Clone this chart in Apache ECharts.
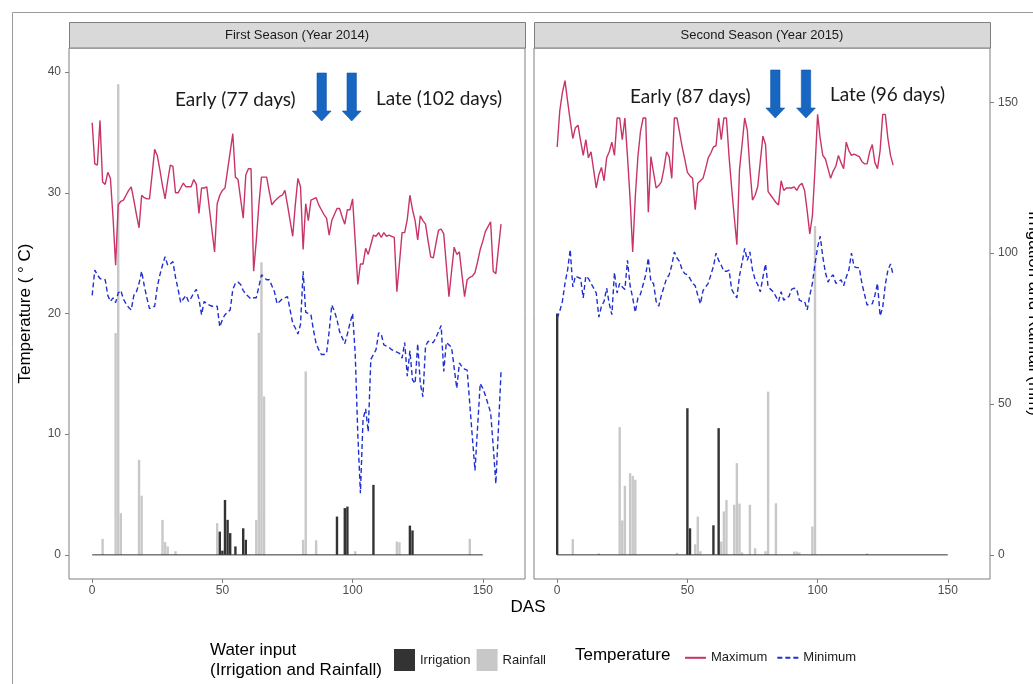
<!DOCTYPE html>
<html>
<head>
<meta charset="utf-8">
<title>Water input and temperature by season</title>
<script src="https://cdn.jsdelivr.net/npm/echarts@6/dist/echarts.min.js"></script>
<style>
  html, body { margin: 0; padding: 0; background: #fff; }
  #chart { width: 1033px; height: 684px; }
</style>
</head>
<body>
<div id="chart"></div>
<script>
// daily temperatures, index = DAS
const maxT2014 = [
  35.8, 32.4, 32.3, 36.0, 30.9, 30.7, 31.7, 31.2, 28.0, 24.0,
  29.0, 29.3, 29.4, 29.8, 30.2, 30.5, 29.4, 28.2, 27.1, 29.8,
  29.6, 29.5, 29.5, 31.5, 33.6, 33.1, 31.9, 30.6, 29.5, 31.0,
  32.3, 32.2, 30.0, 30.0, 30.4, 30.8, 30.5, 30.5, 30.5, 31.1,
  30.7, 28.3, 30.4, 30.4, 30.5, 28.7, 26.9, 25.1, 29.1, 29.8,
  30.2, 30.4, 31.9, 33.4, 34.9, 31.3, 31.1, 29.5, 27.9, 31.5,
  32.0, 32.0, 23.5, 26.0, 29.0, 31.3, 31.3, 31.3, 30.1, 29.0,
  29.3, 29.5, 29.7, 29.8, 30.2, 29.0, 27.7, 26.4, 29.0, 31.2,
  30.5, 25.3, 29.1, 27.7, 29.4, 29.5, 29.6, 29.0, 28.6, 28.2,
  27.9, 26.5, 27.7, 28.2, 28.7, 28.7, 28.0, 27.4, 28.6, 28.6,
  29.5, 26.0, 22.4, 24.1, 24.1, 25.4, 24.9, 25.7, 26.5, 26.4,
  26.7, 26.3, 26.7, 26.4, 26.5, 26.4, 26.3, 21.8, 24.2, 26.7,
  26.7, 27.8, 29.8, 28.6, 27.7, 26.1, 28.1, 27.7, 27.4, 26.0,
  24.7, 24.6, 25.8, 26.9, 27.0, 26.6, 24.0, 21.4, 23.5, 25.5,
  24.9, 25.1, 23.2, 21.4, 22.8, 23.0, 23.1, 23.4, 24.3, 25.3,
  26.0, 26.8, 27.2, 27.6, 23.5, 23.3, 25.4, 27.4
];
const minT2014 = [
  21.5, 23.6, 23.2, 22.9, 22.8, 22.8, 21.5, 21.0, 21.3, 20.9,
  21.7, 21.9, 21.2, 20.8, 20.5, 20.3, 21.5, 21.8, 22.5, 23.5,
  22.3, 21.3, 20.4, 20.5, 20.6, 22.2, 23.2, 24.0, 24.7, 24.0,
  24.1, 24.3, 23.0, 22.0, 20.9, 21.2, 21.5, 21.0, 21.3, 21.7,
  22.0, 21.2, 19.9, 21.0, 20.8, 20.7, 20.6, 20.6, 20.6, 18.9,
  19.5, 19.9, 20.1, 20.3, 22.0, 22.5, 22.6, 22.4, 21.9, 21.6,
  21.4, 21.2, 21.3, 21.3, 22.2, 23.2, 23.0, 22.8, 22.8, 22.3,
  21.8, 20.8, 21.0, 21.2, 21.3, 21.4, 20.3, 19.2, 18.8, 18.3,
  19.1, 23.5, 20.1, 20.0, 19.9, 18.6, 17.5, 17.0, 16.6, 16.6,
  16.7, 18.5, 20.7, 20.2, 19.5, 18.5, 18.0, 17.5, 18.3, 19.2,
  20.0, 16.7, 10.0, 5.1, 11.2, 12.1, 10.2, 16.2, 16.6, 17.0,
  18.4, 18.3, 17.4, 17.3, 17.2, 17.0, 16.9, 16.8, 16.7, 16.3,
  17.6, 14.8, 16.9, 14.5, 14.2, 17.5, 14.2, 13.1, 17.3, 17.7,
  17.6, 17.6, 18.0, 18.5, 19.0, 15.2, 17.6, 17.4, 17.2, 15.5,
  13.8, 15.9, 15.6, 15.4, 15.3, 12.5, 9.7, 7.0, 10.6, 14.2,
  13.8, 13.2, 12.5, 11.8, 9.0, 5.9, 10.5, 15.2
];
const maxT2015 = [
  33.8, 36.8, 38.3, 39.3, 37.6, 36.0, 34.5, 35.4, 35.6, 34.3,
  33.1, 34.4, 32.9, 33.4, 31.9, 30.4, 31.5, 32.1, 31.0, 32.9,
  33.4, 34.2, 33.1, 36.2, 36.2, 34.4, 36.2, 33.0, 29.5, 25.1,
  29.7, 33.0, 35.1, 36.2, 36.2, 28.4, 33.0, 31.7, 30.4, 30.6,
  30.9, 32.0, 33.4, 33.0, 31.2, 36.2, 36.2, 35.0, 33.8, 32.8,
  31.7, 31.4, 31.2, 28.6, 30.8, 31.0, 31.2, 32.0, 32.9, 33.3,
  33.8, 33.9, 36.2, 34.4, 36.2, 36.2, 33.0, 30.4, 28.0, 25.7,
  31.9, 34.0, 36.2, 35.2, 32.0, 29.4, 29.8, 30.5, 32.6, 34.7,
  34.0, 30.1, 29.8, 29.5, 29.2, 29.0, 31.0, 30.2, 30.4, 30.4,
  30.4, 30.5, 30.2, 30.6, 30.8, 30.2, 28.5, 26.6, 28.1, 32.0,
  36.5, 34.5, 33.1, 32.8, 32.0, 31.2, 31.8, 32.2, 33.1, 32.5,
  32.0, 34.2, 33.5, 33.1, 33.2, 33.1, 33.0, 32.6, 32.4, 32.4,
  33.4, 34.0, 32.5, 32.0, 33.5, 36.5, 36.5, 34.5, 33.1, 32.3
];
const minT2015 = [
  19.6, 20.2, 21.0, 22.5, 23.6, 25.3, 22.2, 23.1, 23.0, 22.9,
  21.3, 23.1, 22.9, 22.5, 22.1, 21.7, 19.7, 20.6, 21.0, 22.1,
  20.8, 19.9, 23.4, 21.7, 22.5, 22.2, 22.0, 24.4, 22.3, 21.3,
  20.1, 21.3, 21.6, 22.4, 23.2, 24.6, 22.6, 22.5, 21.0, 20.6,
  21.5, 22.2, 22.9, 23.2, 24.0, 25.1, 24.6, 24.3, 23.6, 23.3,
  23.2, 22.9, 22.5, 22.3, 21.5, 20.8, 21.9, 22.2, 22.5, 23.2,
  23.9, 25.0, 24.4, 24.0, 23.5, 23.5, 23.6, 22.0, 21.6, 21.3,
  23.1, 24.2, 25.4, 24.4, 25.1, 23.6, 22.8, 22.4, 21.8, 23.0,
  24.1, 22.2, 22.0, 21.8, 21.4, 21.0, 21.8, 21.1, 21.3, 21.4,
  22.0, 22.1, 22.0, 21.1, 21.0, 21.0, 20.3, 21.5, 22.5, 24.1,
  25.5, 26.4, 24.7, 23.4, 22.6, 23.0, 23.2, 22.5, 22.6, 22.8,
  22.3, 23.0, 23.6, 25.0, 23.9, 23.8, 23.8, 22.5, 21.6, 20.7,
  20.8, 20.8, 21.5, 22.5, 19.8, 20.5, 22.4, 23.6, 24.1, 23.2
];

// water input (mm) on the days it was recorded
const rainDays2014 = [4, 9, 10, 11, 18, 19, 27, 28, 29, 32, 48, 63, 64, 65, 66, 81, 82, 86, 101, 117, 118, 145];
const rainMm2014 = [5.3, 73.5, 156, 13.8, 31.5, 19.6, 11.6, 4.2, 2.8, 1.2, 10.5, 11.6, 73.6, 97, 52.5, 5.0, 60.8, 4.8, 1.2, 4.4, 4.2, 5.3];
const irrDays2014 = [49, 50, 51, 52, 53, 55, 58, 59, 94, 97, 98, 108, 122, 123];
const irrMm2014 = [7.7, 1.4, 18.2, 11.6, 7.2, 2.8, 8.8, 5.0, 12.7, 15.5, 16.0, 23.2, 9.7, 8.1];

const rainDays2015 = [6, 16, 24, 25, 26, 28, 29, 30, 46, 53, 54, 55, 63, 64, 65, 68, 69, 70, 71, 74, 76, 80, 81, 84, 91, 92, 93, 98, 99, 119];
const rainMm2015 = [5.2, 0.5, 42.3, 11.4, 22.9, 27.1, 26.2, 24.9, 0.7, 3.5, 12.7, 1.2, 4.4, 14.4, 18.2, 16.6, 30.4, 17.0, 0.8, 16.6, 2.2, 1.2, 54.1, 17.1, 1.1, 1.1, 0.8, 9.4, 109, 0.5];
const irrDays2015 = [0, 50, 51, 60, 62];
const irrMm2015 = [80, 48.6, 8.8, 9.8, 42.0];

const baseDays = [0, 150];
const dayTicks = [0, 50, 100, 150];
const tempTicks = [0, 10, 20, 30, 40];
const waterTicks = [0, 50, 100, 150];

const panelTitles = ['First Season (Year 2014)', 'Second Season (Year 2015)'];
const notes = [
  ['Early (77 days)', 'Late (102 days)'],
  ['Early (87 days)', 'Late (96 days)']
];

const sans = '"Liberation Sans", Arial, sans-serif';
const grey = '#7f7f7f';
const maxColor = '#c8346a';
const minColor = '#2030d0';
const arrowBlue = '#1766c2';

function daily(vals) { return vals.map((v, i) => [i, v]); }
function pairs(days, vals) { return days.map((d, i) => [d, vals[i]]); }

function xAxisFor(g) {
  return {
    type: 'value', gridIndex: g, min: -8.9, max: 166.2,
    axisLine: { show: false, onZero: false },
    axisTick: { show: true, customValues: dayTicks, length: 4, lineStyle: { color: grey } },
    axisLabel: { customValues: dayTicks, color: '#4d4d4d', fontSize: 12, fontFamily: sans, margin: 6 },
    splitLine: { show: false }
  };
}

function arrow(cx, top, headTop, tip) {
  return {
    type: 'polygon',
    shape: { points: [[cx - 4.7, top], [cx + 4.7, top], [cx + 4.7, headTop], [cx + 9.4, headTop],
                      [cx, tip], [cx - 9.4, headTop], [cx - 4.7, headTop]] },
    style: { fill: arrowBlue, stroke: '#0f56a8', lineWidth: 0.6 }
  };
}

function note(text, x, y) {
  return { type: 'text', x: x, y: y,
    style: { text: text, font: '19px Lato, "Open Sans", sans-serif', fill: '#1a1a1a', verticalAlign: 'middle' } };
}

function lineSeries(name, g, yIdx, vals, color, dashed) {
  return {
    type: 'line', name: name, xAxisIndex: g, yAxisIndex: yIdx, data: daily(vals),
    symbol: 'none', z: 4,
    itemStyle: { color: color },
    lineStyle: { color: color, width: 1.4, type: dashed ? [5, 3] : 'solid' }
  };
}

function barSeries(name, g, days, vals, color) {
  return {
    type: 'bar', name: name, xAxisIndex: g, yAxisIndex: g * 2 + 1, data: pairs(days, vals),
    barWidth: 2.4, barGap: '-100%', itemStyle: { color: color }
  };
}

function baseLine(g) {
  return {
    type: 'line', xAxisIndex: g, yAxisIndex: g * 2 + 1, data: baseDays.map(d => [d, 0]),
    symbol: 'none', silent: true, z: 3, lineStyle: { color: '#333', width: 1 }
  };
}

const chart = echarts.init(document.getElementById('chart'));

const gridBase = { top: 48, width: 456, height: 531, show: true, borderColor: grey, borderWidth: 1,
  backgroundColor: 'transparent', containLabel: false, outerBoundsMode: 'none' };

const option = {
  animation: false,
  backgroundColor: '#fff',
  grid: [
    Object.assign({ left: 69 }, gridBase),
    Object.assign({ left: 534 }, gridBase)
  ],
  xAxis: [xAxisFor(0), xAxisFor(1)],
  yAxis: [
    {
      type: 'value', gridIndex: 0, min: -2, max: 42, position: 'left',
      axisLine: { show: false, onZero: false },
      axisTick: { show: true, customValues: tempTicks, length: 4, lineStyle: { color: grey } },
      axisLabel: { customValues: tempTicks, color: '#4d4d4d', fontSize: 12, fontFamily: sans, margin: 8 },
      splitLine: { show: false },
      name: 'Temperature ( ° C)', nameLocation: 'middle', nameGap: 35,
      nameTextStyle: { fontSize: 17, color: '#000', fontFamily: sans }
    },
    { type: 'value', gridIndex: 0, min: -8, max: 168, position: 'right', show: false,
      axisLine: { onZero: false }, splitLine: { show: false } },
    { type: 'value', gridIndex: 1, min: -2, max: 42, position: 'left', show: false,
      axisLine: { onZero: false }, splitLine: { show: false } },
    {
      type: 'value', gridIndex: 1, min: -8, max: 168, position: 'right',
      axisLine: { show: false, onZero: false },
      axisTick: { show: true, customValues: waterTicks, length: 4, lineStyle: { color: grey } },
      axisLabel: { customValues: waterTicks, color: '#4d4d4d', fontSize: 12, fontFamily: sans, margin: 8 },
      splitLine: { show: false },
      name: 'Irrigation and Rainfall (mm)', nameLocation: 'middle', nameGap: 35, nameRotate: -90,
      nameTextStyle: { fontSize: 17, color: '#000', fontFamily: sans }
    }
  ],
  legend: [
    {
      data: ['Irrigation', 'Rainfall'], left: 389, top: 644, orient: 'horizontal',
      itemWidth: 21, itemHeight: 22, itemGap: 6, icon: 'rect', selectedMode: false,
      textStyle: { fontSize: 13, color: '#1a1a1a', fontFamily: sans }
    },
    {
      data: ['Maximum', 'Minimum'], left: 679, top: 644, orient: 'horizontal',
      itemWidth: 21, itemHeight: 22, itemGap: 9, selectedMode: false,
      itemStyle: { opacity: 0 },
      textStyle: { fontSize: 13, color: '#1a1a1a', fontFamily: sans }
    }
  ],
  series: [
    barSeries('Rainfall', 0, rainDays2014, rainMm2014, '#c8c8c8'),
    barSeries('Irrigation', 0, irrDays2014, irrMm2014, '#333333'),
    baseLine(0),
    lineSeries('Maximum', 0, 0, maxT2014, maxColor, false),
    lineSeries('Minimum', 0, 0, minT2014, minColor, true),
    barSeries('Rainfall', 1, rainDays2015, rainMm2015, '#c8c8c8'),
    barSeries('Irrigation', 1, irrDays2015, irrMm2015, '#333333'),
    baseLine(1),
    lineSeries('Maximum', 1, 2, maxT2015, maxColor, false),
    lineSeries('Minimum', 1, 2, minT2015, minColor, true)
  ],
  graphic: [
    { type: 'polyline', shape: { points: [[12.5, 684], [12.5, 12.5], [1033, 12.5]] }, style: { stroke: '#9a9a9a', lineWidth: 1, fill: null } },
    // facet strips
    { type: 'rect', shape: { x: 69.5, y: 22.5, width: 456, height: 25.5 }, style: { fill: '#d9d9d9', stroke: grey, lineWidth: 1 } },
    { type: 'rect', shape: { x: 534.5, y: 22.5, width: 456, height: 25.5 }, style: { fill: '#d9d9d9', stroke: grey, lineWidth: 1 } },
    { type: 'text', x: 297, y: 35.5, style: { text: panelTitles[0], font: '13px ' + sans, fill: '#1a1a1a', align: 'center', verticalAlign: 'middle' } },
    { type: 'text', x: 762, y: 35.5, style: { text: panelTitles[1], font: '13px ' + sans, fill: '#1a1a1a', align: 'center', verticalAlign: 'middle' } },
    // harvest annotations
    note(notes[0][0], 175, 100),
    note(notes[0][1], 376, 99),
    note(notes[1][0], 630, 97),
    note(notes[1][1], 830, 95),
    arrow(321.7, 73, 111, 121),
    arrow(351.7, 73, 111, 121),
    arrow(775.3, 70, 108, 118),
    arrow(806, 70, 108, 118),
    // shared x title
    { type: 'text', x: 528, y: 607, style: { text: 'DAS', font: '17px ' + sans, fill: '#000', align: 'center', verticalAlign: 'middle' } },
    // legend titles
    { type: 'text', x: 210, y: 650, style: { text: 'Water input', font: '17px ' + sans, fill: '#000', verticalAlign: 'middle' } },
    { type: 'text', x: 210, y: 670, style: { text: '(Irrigation and Rainfall)', font: '17px ' + sans, fill: '#000', verticalAlign: 'middle' } },
    { type: 'text', x: 575, y: 655, style: { text: 'Temperature', font: '17px ' + sans, fill: '#000', verticalAlign: 'middle' } }
  ]
};

chart.setOption(option);
</script>
</body>
</html>
